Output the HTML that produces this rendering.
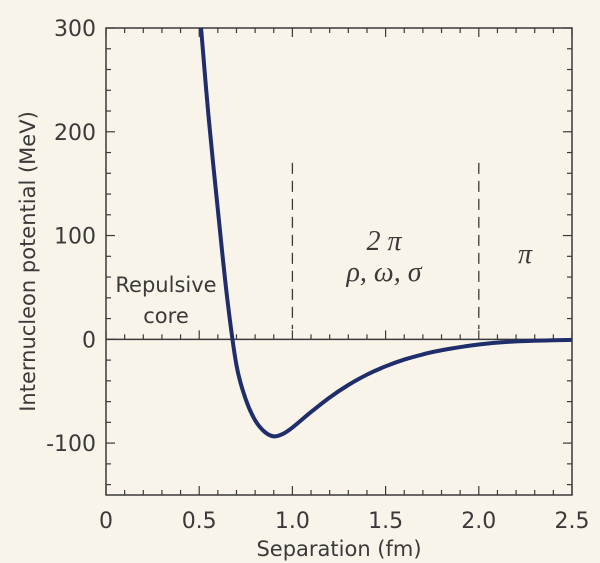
<!DOCTYPE html>
<html><head><meta charset="utf-8"><style>
body{margin:0;background:#f8f4e9;}
svg{display:block;font-family:"DejaVu Sans","Liberation Sans",sans-serif;}
</style></head><body>
<svg id="chart" width="600" height="563" viewBox="0 0 600 563">
<rect width="600" height="563" fill="#f8f4e9"/>
<g id="g"></g>
</svg>
<script>
const xTicks=[0,0.5,1.0,1.5,2.0,2.5];
const xTickLabels=["0","0.5","1.0","1.5","2.0","2.5"];
const yTicks=[-100,0,100,200,300];
const yTickLabels=["-100","0","100","200","300"];
const sepX=[0.51,0.55,0.6,0.65,0.7,0.75,0.8,0.85,0.9,0.95,1.0,1.1,1.2,1.3,1.4,1.5,1.6,1.7,1.8,2.0,2.2,2.5];
const potY=[300,215,125,40,-25,-58,-78,-89,-93.5,-91,-85,-70,-56,-44,-34,-26,-19.5,-14.5,-10.5,-5,-2,-0.5];
const dividers=[1.0,2.0];

const L=106,R=572,T=28,B=495;
const X=v=>L+(v-0)/(2.5)*(R-L);
const Y=v=>T+(300-v)/450*(B-T);
const g=document.getElementById('g');
const NS='http://www.w3.org/2000/svg';
function mk(tag,attrs,name){const e=document.createElementNS(NS,tag);for(const k in attrs)e.setAttribute(k,attrs[k]);


g.appendChild(e);return e;}
const ink='#3a3a3a';
mk('rect',{x:L,y:T,width:R-L,height:B-T,fill:'none',stroke:ink,'stroke-width':1.5},'plot-frame');
mk('line',{x1:L,x2:R,y1:Y(0),y2:Y(0),stroke:ink,'stroke-width':1.5},'zero-line');
for(let i=0;i<=25;i++){const v=i/10,major=i%5==0,len=major?9:5;
 mk('line',{x1:X(v),x2:X(v),y1:B,y2:B-len,stroke:ink,'stroke-width':1.2},'x-tick');
 mk('line',{x1:X(v),x2:X(v),y1:Y(0)-len,y2:Y(0),stroke:ink,'stroke-width':1.2},'zero-tick');
 mk('line',{x1:X(v),x2:X(v),y1:T,y2:T+len,stroke:ink,'stroke-width':1.2},'top-tick');}
for(let v=-140;v<=300;v+=20){const major=v%100==0,len=major?9:5;
 mk('line',{x1:L,x2:L+len,y1:Y(v),y2:Y(v),stroke:ink,'stroke-width':1.2},'y-tick');
 mk('line',{x1:R,x2:R-len,y1:Y(v),y2:Y(v),stroke:ink,'stroke-width':1.2},'right-tick');}
xTicks.forEach((v,i)=>{const t=mk('text',{x:X(v),y:528,'text-anchor':'middle','font-size':22,fill:ink},'x-tick-label');t.textContent=xTickLabels[i];});
yTicks.forEach((v,i)=>{const t=mk('text',{x:96,y:Y(v)+8,'text-anchor':'end','font-size':22,fill:ink},'y-tick-label');t.textContent=yTickLabels[i];});
let t=mk('text',{x:(L+R)/2,y:556,'text-anchor':'middle','font-size':21,fill:ink},'x-axis-title');t.textContent='Separation (fm)';
t=mk('text',{x:0,y:0,'text-anchor':'middle','font-size':21,fill:ink,transform:`translate(35,${(T+B)/2}) rotate(-90)`},'y-axis-title');t.textContent='Internucleon potential (MeV)';
dividers.forEach(v=>mk('line',{x1:X(v),x2:X(v),y1:Y(170),y2:Y(10),stroke:ink,'stroke-width':1.3,'stroke-dasharray':'11,7'},'region-divider'));
const pts=sepX.map((x,i)=>[X(x),Y(potY[i])]);
let d=`M${pts[0][0]},${pts[0][1]}`;
for(let i=0;i<pts.length-1;i++){const p0=pts[i-1]||pts[i],p1=pts[i],p2=pts[i+1],p3=pts[i+2]||p2;
 d+=` C${p1[0]+(p2[0]-p0[0])/6},${p1[1]+(p2[1]-p0[1])/6} ${p2[0]-(p3[0]-p1[0])/6},${p2[1]-(p3[1]-p1[1])/6} ${p2[0]},${p2[1]}`;}
mk('path',{d:d,fill:'none',stroke:'#1f2d6b','stroke-width':4,'stroke-linejoin':'round'},'potential-curve');
t=mk('text',{x:166,y:292,'text-anchor':'middle','font-size':21,fill:ink},'label-repulsive');t.textContent='Repulsive';
t=mk('text',{x:166,y:323,'text-anchor':'middle','font-size':21,fill:ink},'label-core');t.textContent='core';
const serif='"Liberation Serif",serif';
t=mk('text',{x:384,y:250,'text-anchor':'middle','font-size':28,fill:ink,'font-family':serif,'font-style':'italic'},'label-2pi');t.textContent='2 π';
t=mk('text',{x:384,y:281,'text-anchor':'middle','font-size':28,fill:ink,'font-family':serif,'font-style':'italic'},'label-rho-omega-sigma');t.textContent='ρ, ω, σ';
t=mk('text',{x:525,y:263,'text-anchor':'middle','font-size':28,fill:ink,'font-family':serif,'font-style':'italic'},'label-pi');t.textContent='π';
</script>
</body></html>
